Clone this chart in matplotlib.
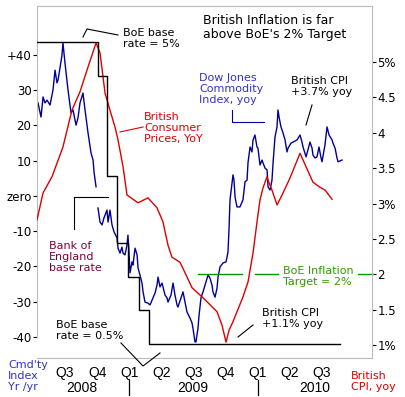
import matplotlib
matplotlib.use("Agg")
import numpy as np
import matplotlib.pyplot as plt
from matplotlib.lines import Line2D
from matplotlib.transforms import blended_transform_factory

# x values are months since 1 Jan 2008
# Dow Jones commodity index, yoy % (left axis), drawn in two pieces
cmd_months_a = [3.48, 3.76, 3.95, 4.13, 4.32, 4.60, 4.88, 5.07, 5.25, 5.35, 5.53, 5.72, 5.81,
                6.00, 6.28, 6.56, 6.75, 7.03, 7.21, 7.40, 7.68, 7.87, 8.15, 8.43, 8.62, 8.71, 8.90]
cmd_yoy_a = [26.4, 22.4, 28.1, 26.4, 27.2, 25.8, 30.1, 35.7, 32.1, 32.9, 36.3, 40.0, 43.4,
             37.7, 30.1, 23.6, 24.4, 20.1, 22.1, 26.4, 29.2, 24.4, 17.9, 12.2, 10.2, 6.8, 2.6]

cmd_months_b = [9.08, 9.27, 9.46, 9.64, 9.92, 10.02, 10.20, 10.39, 10.58, 10.86, 10.95, 11.14,
                11.32, 11.42, 11.60, 11.79, 11.88, 11.98, 12.07, 12.26, 12.35, 12.54, 12.73,
                12.82, 13.00, 13.19, 13.29, 13.47, 13.75, 13.94, 14.13, 14.41, 14.59, 14.69,
                14.87, 15.06, 15.15, 15.34, 15.53, 15.62, 15.90, 16.09, 16.27, 16.46, 16.55,
                16.83, 17.02, 17.21, 17.39, 17.67, 17.86, 17.95, 18.14, 18.23, 18.42, 18.52,
                18.70, 18.89, 19.08, 19.36, 19.54, 19.73, 19.82, 20.01, 20.20, 20.29, 20.48,
                20.76, 21.04, 21.22, 21.32, 21.41, 21.69, 21.78, 21.88, 22.06, 22.34, 22.62,
                22.81, 23.00, 23.09, 23.28, 23.46, 23.56, 23.74, 23.93, 24.02, 24.21, 24.40,
                24.49, 24.68, 24.87, 24.96, 25.15, 25.33, 25.43, 25.61, 25.80, 25.89, 25.99,
                26.17, 26.36, 26.55, 26.73, 26.83, 27.11, 27.29, 27.67, 27.95, 28.13, 28.23,
                28.51, 28.69, 28.88, 29.07, 29.16, 29.35, 29.53, 29.72, 29.91, 30.00, 30.28,
                30.47, 30.66, 30.94, 31.03, 31.22, 31.40, 31.50, 31.87]
cmd_yoy_b = [-3.4, -7.4, -8.2, -6.2, -4.0, -7.4, -4.0, -8.2, -10.2, -11.9, -14.8, -16.2,
             -14.5, -16.2, -16.7, -13.9, -11.1, -16.2, -21.8, -18.7, -19.6, -14.8, -16.7,
             -20.4, -22.4, -24.7, -27.2, -30.1, -30.4, -30.9, -29.5, -27.5, -25.3, -23.0,
             -25.8, -24.7, -25.8, -28.1, -28.9, -30.1, -28.1, -24.7, -28.1, -30.9, -31.5,
             -28.9, -27.2, -30.1, -32.9, -34.6, -36.0, -37.5, -41.4, -41.4, -37.5, -33.8,
             -28.9, -27.2, -25.3, -22.4, -23.3, -25.3, -27.2, -28.7, -26.1, -23.0, -20.1,
             -19.0, -18.7, -15.9, -9.1, -1.1, 6.0, 4.5, -0.3, -3.1, -3.1, -1.1,
             4.0, 4.5, 9.4, 13.9, 12.5, 15.9, 17.3, 13.9, 13.6, 8.8, 10.2,
             9.4, 7.9, 7.4, 2.6, 1.7, 4.5, 9.4, 16.7, 19.6, 24.4, 22.4,
             19.6, 17.9, 15.9, 12.5, 13.6, 15.0, 15.3, 15.9, 17.3, 15.3, 13.9,
             11.1, 13.1, 15.3, 13.6, 11.6, 10.8, 11.1, 13.9, 10.8, 9.7, 14.5,
             19.6, 17.3, 15.9, 15.0, 13.6, 10.8, 9.7, 10.2]

# British CPI, yoy % (right axis)
cpi_months = [3.39, 3.95, 4.79, 5.81, 6.65, 7.40, 8.15, 8.90, 9.27, 9.74, 10.20, 10.67, 10.95,
              11.42, 11.79, 12.82, 13.75, 14.59, 15.15, 15.62, 15.99, 16.74, 17.21, 17.86,
              18.80, 19.54, 20.20, 20.66, 21.04, 21.32, 21.69, 22.62, 23.09, 23.56, 23.93,
              24.21, 24.49, 24.87, 24.96, 25.33, 25.80, 26.27, 27.01, 27.95, 28.51, 29.16,
              29.81, 30.28, 30.94]
cpi_yoy = [2.77, 3.15, 3.38, 3.80, 4.32, 4.58, 4.93, 5.27, 5.13, 4.56, 4.32, 4.08, 3.90,
           3.52, 3.12, 3.01, 3.08, 2.94, 2.74, 2.41, 2.24, 2.17, 2.02, 1.81,
           1.68, 1.57, 1.47, 1.28, 1.04, 1.21, 1.33, 1.68, 1.89, 2.30, 2.74,
           3.05, 3.22, 3.38, 3.33, 3.19, 2.98, 3.12, 3.36, 3.71, 3.52, 3.30,
           3.23, 3.19, 3.06]

# Bank of England base rate, % (own hidden scale)
boe_months = [3.39, 9.08, 9.88, 10.86, 11.93, 12.91, 13.80, 31.68]
boe_rate = [5.0, 4.5, 3.0, 2.0, 1.5, 1.0, 0.5, 0.5]
target_rate = 2.0

quarter_months = [6, 9, 12, 15, 18, 21, 24, 27, 30]
quarter_labels = ['Q3', 'Q4', 'Q1', 'Q2', 'Q3', 'Q4', 'Q1', 'Q2', 'Q3']
year_labels = ['2008', '2009', '2010']
year_label_months = [7.6, 17.9, 29.35]
year_break_months = [12, 24]

left_ticks = [40, 30, 20, 10, 0, -10, -20, -30, -40]
left_tick_labels = ['+40', '30', '20', '10', 'zero', '-10', '-20', '-30', '-40']
right_ticks = [5, 4.5, 4, 3.5, 3, 2.5, 2, 1.5, 1]
right_tick_labels = ['5%', '4.5', '4', '3.5', '3%', '2.5', '2', '1.5', '1%']

BLUE = '#000099'
RED = '#dd0000'
GREEN = '#009900'
GRAY = '#bbbbbb'

W, H = 406, 397
fig = plt.figure(figsize=(W / 100, H / 100), dpi=100)
ax = fig.add_axes([37 / W, 39 / H, 335 / W, 352 / H])
ax_r = ax.twinx()
ax_b = ax.twinx()

# lines
ax.plot(cmd_months_a, cmd_yoy_a, color=BLUE, lw=1.0)
ax.plot(cmd_months_b, cmd_yoy_b, color=BLUE, lw=1.0)
ax_b.plot(boe_months, boe_rate, color='black', lw=1.0, drawstyle='steps-post')
ax_r.plot(cpi_months, cpi_yoy, color=RED, lw=1.0)
for x0, x1 in [(18.42, 22.53), (23.74, 25.89), (33.36, 34.8)]:
    ax_r.plot([x0, x1], [target_rate, target_rate], color=GREEN, lw=1.0, clip_on=False)

ax.set_xlim(3.385, 34.67)
ax.set_ylim(-45.96, 53.90)
ax_r.set_ylim(0.816, 5.792)
ax_b.set_ylim(0.291, 5.536)

# spines
for s in ['top', 'bottom', 'left']:
    ax.spines[s].set_color(GRAY)
ax.spines['right'].set_visible(False)
ax.spines['left'].set_bounds(-40, 53.9)
for s in ['top', 'bottom', 'left']:
    ax_r.spines[s].set_visible(False)
ax_r.spines['right'].set_color(GRAY)
for s in ax_b.spines.values():
    s.set_visible(False)
ax_b.yaxis.set_visible(False)

# ticks
ax.set_yticks(left_ticks)
ax.set_yticklabels(left_tick_labels)
ax.tick_params(axis='y', length=3, width=0.8, pad=1, labelsize=8.5)
ax_r.set_yticks(right_ticks)
ax_r.set_yticklabels(right_tick_labels)
ax_r.tick_params(axis='y', length=3, width=0.8, pad=1, labelsize=8.5)
ax.set_xticks(quarter_months)
ax.set_xticklabels(quarter_labels, family=['Liberation Sans Narrow', 'Liberation Sans'],
                   fontsize=10)
ax.tick_params(axis='x', length=0, pad=6)

trans = blended_transform_factory(ax.transData, fig.transFigure)
for m, lab in zip(year_label_months, year_labels):
    ax.text(m, 1 - 392 / H, lab, transform=trans, ha='center', va='baseline',
            fontsize=10, family=['Liberation Sans'])
for m in year_break_months:
    fig.add_artist(Line2D([m, m], [1 - 380 / H, 1 - 395 / H], transform=trans,
                          color='black', lw=0.9))


# annotations, placed in pixel positions of the figure (y = baseline of the last line)
def fx(x):
    return x / W


def fy(y):
    return 1 - y / H


def note(x, y, s, color='black', size=8, ls=1.15):
    fig.text(fx(x), fy(y), s, color=color, fontsize=size, ha='left', va='baseline',
             linespacing=ls)


def leader(xs, ys, color='black'):
    fig.add_artist(Line2D([fx(v) for v in xs], [fy(v) for v in ys], color=color, lw=0.8))


note(203, 38, "British Inflation is far\nabove BoE's 2% Target", size=9, ls=1.1)
note(123, 47, "BoE base\nrate = 5%")
note(199, 103, "Dow Jones\nCommodity\nIndex, yoy", color='#3333cc')
note(291, 95, "British CPI\n+3.7% yoy")
note(144, 142, "British\nConsumer\nPrices, YoY", color=RED)
note(49, 271, "Bank of\nEngland\nbase rate", color='#800040')
note(56, 339, "BoE base\nrate = 0.5%")
note(262, 327, "British CPI\n+1.1% yoy")
note(283, 285, "BoE Inflation\nTarget = 2%", color='#339900')
note(8, 390, "Cmd'ty\nIndex\nYr /yr", color='#3333cc')
note(351, 390, "British\nCPI, yoy", color=RED)

leader([83, 87, 118], [37, 29, 35])
leader([232, 232, 264], [110, 122, 122], color=BLUE)
leader([306, 312], [125, 105])
leader([120, 143], [132, 127], color=RED)
leader([74, 74, 108], [229, 197, 197])
leader([121, 143, 160], [343, 366, 353])
leader([238, 253], [337, 325])

fig.savefig('out.png', dpi=100)
